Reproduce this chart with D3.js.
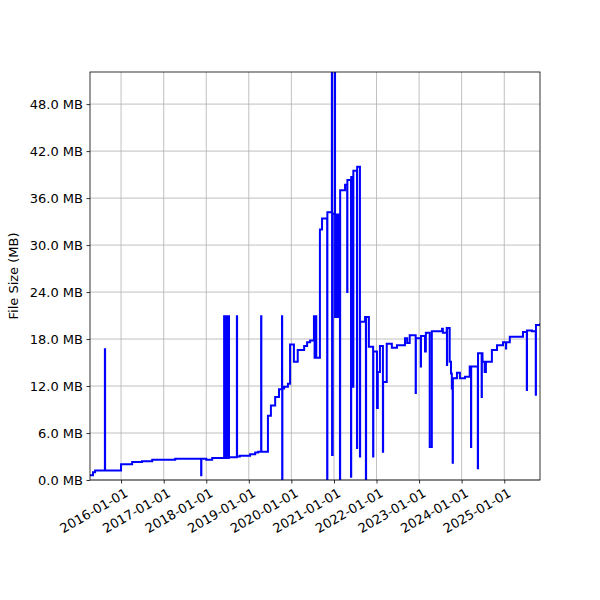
<!DOCTYPE html>
<html><head><meta charset="utf-8">
<script src="https://cdn.jsdelivr.net/npm/d3@7"></script>
<style>body{margin:0;background:#fff}text{font-family:"DejaVu Sans",sans-serif}</style>
</head><body><svg id="c" width="600" height="600"></svg>
<script>
// decimal years
const times = [2015.27,2015.34,2015.39,2015.62,2015.625,2016.0,2016.26,2016.49,2016.73,2017.27,2017.88,2017.885,2018.0,2018.14,2018.42,2018.425,2018.46,2018.465,2018.49,2018.495,2018.53,2018.535,2018.72,2018.725,2018.79,2019.03,2019.15,2019.22,2019.29,2019.295,2019.45,2019.52,2019.62,2019.71,2019.78,2019.785,2019.79,2019.83,2019.92,2019.97,2020.06,2020.15,2020.30,2020.37,2020.44,2020.53,2020.545,2020.58,2020.585,2020.67,2020.72,2020.84,2020.845,2020.95,2020.955,2020.97,2021.02,2021.025,2021.05,2021.07,2021.10,2021.14,2021.145,2021.26,2021.31,2021.315,2021.40,2021.405,2021.45,2021.455,2021.54,2021.545,2021.61,2021.615,2021.73,2021.75,2021.755,2021.82,2021.92,2021.925,2022.01,2022.03,2022.08,2022.15,2022.155,2022.24,2022.36,2022.48,2022.67,2022.72,2022.78,2022.92,2022.925,2023.04,2023.045,2023.14,2023.16,2023.25,2023.30,2023.54,2023.56,2023.65,2023.655,2023.66,2023.72,2023.75,2023.77,2023.79,2023.795,2023.89,2023.96,2024.08,2024.19,2024.22,2024.225,2024.38,2024.385,2024.47,2024.475,2024.49,2024.54,2024.57,2024.71,2024.83,2024.97,2025.04,2025.045,2025.13,2025.44,2025.53,2025.535,2025.65,2025.74,2025.745,2025.84];
const sizesMB = [0.6,1.0,1.2,16.7,1.2,2.0,2.3,2.4,2.6,2.7,0.6,2.7,2.6,2.8,20.9,2.8,20.9,2.8,20.9,2.8,20.9,2.9,20.9,3.0,3.1,3.3,3.5,3.6,20.9,3.6,8.2,9.5,10.6,11.6,20.9,0,11.7,11.9,12.3,17.3,15.1,16.6,17.1,17.6,17.8,20.9,15.6,20.9,15.6,32.0,33.4,0,34.2,53,3.2,34.0,53,20.8,33.9,20.8,33.9,0,37.0,37.7,24.0,38.3,0.4,38.7,11.9,39.5,4.1,40.0,3.0,20.2,20.8,0,20.8,17.0,3.0,16.4,9.2,13.8,17.1,3.6,12.5,17.4,16.9,17.2,18.1,17.5,18.5,11.1,18.1,14.5,18.4,16.4,18.8,4.2,19.0,19.3,18.8,19.4,14.7,19.4,15.1,13.6,11.7,2.2,13.0,13.7,13.0,13.2,14.5,4.2,14.5,1.5,16.2,10.6,16.2,15.1,13.8,15.1,16.6,17.2,17.6,16.8,17.6,18.3,18.9,11.5,19.1,19.0,10.9,19.8,20.0];
const yTicks = [0,6,12,18,24,30,36,42,48];
const xTickYears = [2016,2017,2018,2019,2020,2021,2022,2023,2024,2025];

function toDate(t){const y=Math.floor(t);const s=new Date(y,0,1),e=new Date(y+1,0,1);return new Date(+s+(t-y)*(e-s));}
const data = times.map((t,i)=>({d:toDate(t),v:sizesMB[i]}));

const svg=d3.select("#c");
const L=90,R=540,T=72,B=480;
const x=d3.scaleTime().domain([toDate(2015.27),toDate(2025.84)]).range([L,R]);
const y=d3.scaleLinear().domain([0,52.1]).range([B,T]);
const g=svg.append("g");
// grid
g.selectAll(".gx").data(xTickYears).join("line").attr("x1",d=>x(new Date(d,0,1))).attr("x2",d=>x(new Date(d,0,1))).attr("y1",T).attr("y2",B).attr("stroke","#b0b0b0").attr("stroke-width",0.8);
g.selectAll(".gy").data(yTicks).join("line").attr("y1",d=>y(d)).attr("y2",d=>y(d)).attr("x1",L).attr("x2",R).attr("stroke","#b0b0b0").attr("stroke-width",0.8);
// line
svg.append("defs").append("clipPath").attr("id","cp").append("rect").attr("x",L).attr("y",T).attr("width",R-L).attr("height",B-T);
svg.append("path").datum(data).attr("clip-path","url(#cp)").attr("fill","none").attr("stroke","#0000ff").attr("stroke-width",2)
  .attr("d",d3.line().x(d=>x(d.d)).y(d=>y(d.v)).curve(d3.curveStepAfter));
// axes
const ya=svg.append("g").attr("transform",`translate(${L},0)`).call(d3.axisLeft(y).tickValues(yTicks).tickFormat(d=>d.toFixed(1)+" MB").tickSize(3.5).tickPadding(3.5));
const xa=svg.append("g").attr("transform",`translate(0,${B})`).call(d3.axisBottom(x).tickValues(xTickYears.map(v=>new Date(v,0,1))).tickFormat(d3.timeFormat("%Y-%m-%d")).tickSize(3.5));
[ya,xa].forEach(a=>{a.select(".domain").remove();a.selectAll("text").attr("font-size",13).attr("fill","#000").attr("font-family","DejaVu Sans");a.selectAll("line").attr("stroke","#000").attr("stroke-width",0.8);});
xa.selectAll("text").attr("text-anchor","end").attr("dy",0).attr("transform","translate(4,10) rotate(-30)");
svg.append("rect").attr("x",L).attr("y",T).attr("width",R-L).attr("height",B-T).attr("fill","none").attr("stroke","#000").attr("stroke-width",0.8);
svg.append("text").attr("transform",`translate(18,${(T+B)/2}) rotate(-90)`).attr("text-anchor","middle").attr("font-size",13).text("File Size (MB)");
</script></body></html>
